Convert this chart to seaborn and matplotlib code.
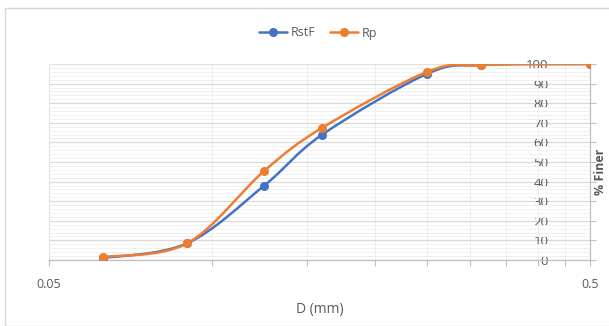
import numpy as np
import pandas as pd
import matplotlib.pyplot as plt
import seaborn as sns
from matplotlib.path import Path
from matplotlib.patches import PathPatch, Rectangle
from matplotlib.lines import Line2D
from matplotlib.ticker import FixedLocator, NullFormatter

# Sieve sizes (mm) and percent finer for the two samples
sizes = [0.063, 0.09, 0.125, 0.16, 0.25, 0.315, 0.5]
rstf = [1.0, 8.5, 38.0, 64.0, 95.0, 99.5, 100.0]
rp = [1.5, 8.5, 45.5, 67.5, 96.0, 99.5, 100.0]
series_names = ['RstF', 'Rp']
colors = {'RstF': '#4472C4', 'Rp': '#ED7D31'}

df = pd.concat([
    pd.DataFrame({'D': sizes, 'Finer': rstf, 'Sample': 'RstF'}),
    pd.DataFrame({'D': sizes, 'Finer': rp, 'Sample': 'Rp'}),
])

sns.set_style('white')
plt.rcParams['font.family'] = ['Open Sans', 'DejaVu Sans']

fig = plt.figure(figsize=(6.09, 3.26), dpi=100)
ax = fig.add_axes([49 / 609, 1 - 260 / 326, 541 / 609, 196 / 326])
ax.set_xscale('log')


def smooth_path(xs, ys):
    # Excel-style smoothed line: Catmull-Rom bezier in (log x, y) space
    lx = np.log10(xs)
    y = np.asarray(ys, dtype=float)
    n = len(lx)
    verts = [(xs[0], y[0])]
    codes = [Path.MOVETO]
    for i in range(n - 1):
        i0 = max(i - 1, 0)
        i3 = min(i + 2, n - 1)
        c1 = (lx[i] + (lx[i + 1] - lx[i0]) / 6, y[i] + (y[i + 1] - y[i0]) / 6)
        c2 = (lx[i + 1] - (lx[i3] - lx[i]) / 6, y[i + 1] - (y[i3] - y[i]) / 6)
        verts += [(10 ** c1[0], c1[1]), (10 ** c2[0], c2[1]), (xs[i + 1], y[i + 1])]
        codes += [Path.CURVE4] * 3
    return Path(verts, codes)


for name, vals in zip(series_names, [rstf, rp]):
    ax.add_patch(PathPatch(smooth_path(sizes, vals), fill=False,
                           edgecolor=colors[name], lw=1.8, zorder=3))

sns.lineplot(data=df, x='D', y='Finer', hue='Sample', palette=colors,
             marker='o', markersize=6.5, markeredgewidth=0, linewidth=0,
             legend=False, ax=ax, zorder=4)

ax.set_xlim(0.05, 0.5)
ax.set_ylim(0, 100)

# x axis: labels only at ends, minor ticks every 0.05
ax.xaxis.set_major_locator(FixedLocator([0.05, 0.5]))
ax.set_xticklabels(['0.05', '0.5'])
ax.xaxis.set_minor_locator(FixedLocator(np.arange(0.1, 0.46, 0.05)))
ax.xaxis.set_minor_formatter(NullFormatter())
ax.tick_params(axis='x', which='both', direction='out', length=4, width=0.8,
               color='#bfbfbf', labelsize=9, labelcolor='#595959', pad=9, bottom=True)

# y axis on right, labels drawn inside the plot
ax.set_yticks(np.arange(0, 101, 10))
ax.yaxis.set_minor_locator(FixedLocator(np.arange(0, 101, 2)))
ax.yaxis.tick_right()
ax.tick_params(axis='y', which='major', direction='out', length=4, width=0.8,
               color='#bfbfbf', labelsize=9.5, labelcolor='#595959', pad=-34)
ax.tick_params(axis='y', which='minor', length=0)
for lab in ax.get_yticklabels():
    lab.set_horizontalalignment('right')

ax.grid(True, which='major', axis='y', color='#d9d9d9', lw=0.9, zorder=0)
ax.grid(True, which='minor', axis='y', color='#f0f0f0', lw=0.7, zorder=0)
ax.grid(True, which='minor', axis='x', color='#eeeeee', lw=0.7, zorder=0)
ax.set_axisbelow(True)

for side in ['top', 'left']:
    ax.spines[side].set_color('#e3e3e3')
    ax.spines[side].set_linewidth(0.8)
for side in ['bottom', 'right']:
    ax.spines[side].set_color('#bfbfbf')
    ax.spines[side].set_linewidth(0.9)

ax.set_xlabel('D (mm)', fontsize=10, color='#595959', labelpad=8)
ax.yaxis.set_label_position('right')
ax.set_ylabel('% Finer', fontsize=9, color='#595959', fontweight='bold')
ax.yaxis.set_label_coords(1.007, 0.45)

handles = [Line2D([], [], color=colors[n], marker='o', markersize=6.5,
                  markeredgewidth=0, lw=1.8) for n in series_names]
fig.legend(handles, series_names, loc='center', bbox_to_anchor=(318 / 609, 1 - 33 / 326),
           ncol=2, frameon=False, fontsize=9, labelcolor='#595959',
           handlelength=2.2, columnspacing=1.2, handletextpad=0.3)

fig.patches.append(Rectangle((5 / 609, 0), 1, 1 - 8 / 326, transform=fig.transFigure,
                             fill=False, edgecolor='#d9d9d9', lw=1))

fig.savefig('out.png', dpi=100)
